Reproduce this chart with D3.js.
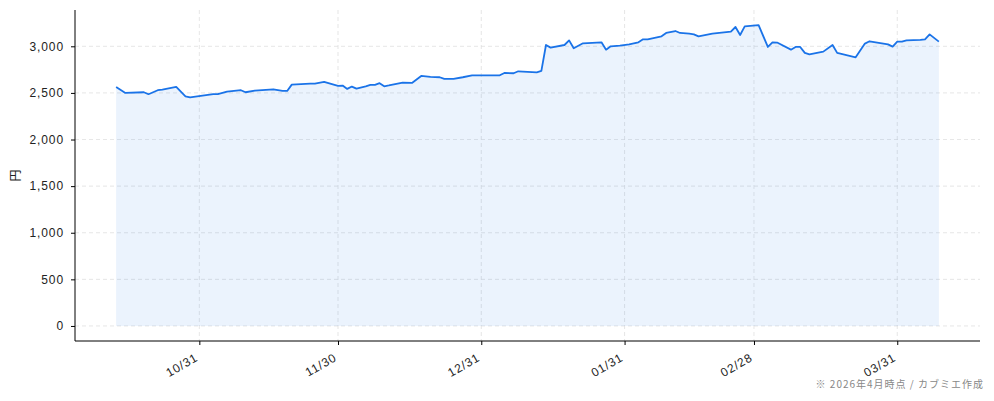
<!DOCTYPE html>
<html>
<head>
<meta charset="utf-8">
<script src="https://cdn.jsdelivr.net/npm/d3@7"></script>
<style>
  body { margin: 0; background: #fff; }
  svg { display: block; font-family: "Noto Sans CJK JP", "Noto Sans", sans-serif; }
</style>
</head>
<body>
<script>
// price points (date, close in yen)
var dates = [
  "2025-10-13","2025-10-15","2025-10-19","2025-10-20","2025-10-22","2025-10-23","2025-10-26","2025-10-28","2025-10-29",
  "2025-11-03","2025-11-04","2025-11-06","2025-11-09","2025-11-10","2025-11-12","2025-11-16","2025-11-18","2025-11-19",
  "2025-11-20","2025-11-24","2025-11-25","2025-11-27","2025-11-30",
  "2025-12-01","2025-12-02","2025-12-03","2025-12-04","2025-12-06","2025-12-07","2025-12-08","2025-12-09","2025-12-10",
  "2025-12-11","2025-12-14","2025-12-16","2025-12-18","2025-12-20","2025-12-22","2025-12-23","2025-12-25","2025-12-27","2025-12-29",
  "2026-01-04","2026-01-05","2026-01-07","2026-01-08","2026-01-12","2026-01-13","2026-01-14","2026-01-15","2026-01-18",
  "2026-01-19","2026-01-20","2026-01-22","2026-01-26","2026-01-27","2026-01-28","2026-01-30",
  "2026-02-01","2026-02-03","2026-02-04","2026-02-05","2026-02-08","2026-02-09","2026-02-11","2026-02-12","2026-02-14",
  "2026-02-15","2026-02-16","2026-02-19","2026-02-23","2026-02-24","2026-02-25","2026-02-26",
  "2026-03-01","2026-03-03","2026-03-04","2026-03-05","2026-03-08","2026-03-09","2026-03-10","2026-03-11","2026-03-12",
  "2026-03-15","2026-03-17","2026-03-18","2026-03-22","2026-03-24","2026-03-25","2026-03-29","2026-03-30","2026-03-31",
  "2026-04-01","2026-04-02","2026-04-05","2026-04-06","2026-04-07","2026-04-09"
];
var prices = [
  2564, 2500, 2507, 2486, 2529, 2536, 2564, 2464, 2453,
  2486, 2486, 2514, 2529, 2507, 2525, 2539, 2521, 2521,
  2589, 2600, 2600, 2618, 2575,
  2579, 2543, 2568, 2546, 2571, 2586, 2586, 2604, 2571,
  2580, 2611, 2607, 2682, 2671, 2668, 2650, 2650, 2668, 2689,
  2689, 2714, 2711, 2732, 2721, 2736, 3014, 2986, 3014,
  3064, 2979, 3032, 3043, 2964, 3000, 3007,
  3021, 3043, 3075, 3075, 3107, 3143, 3164, 3143, 3136,
  3128, 3107, 3136, 3157, 3207, 3121, 3214,
  3228, 2993, 3043, 3040, 2964, 2993, 2993, 2929, 2914,
  2943, 3014, 2929, 2882, 3029, 3054, 3021, 2996, 3050,
  3050, 3064, 3068, 3075, 3128, 3050
];
var xTicks = ["2025-10-31","2025-11-30","2025-12-31","2026-01-31","2026-02-28","2026-03-31"];
var yTicks = [0, 500, 1000, 1500, 2000, 2500, 3000];

var W = 994, H = 401;
var m = { l: 75, r: 980, t: 10, b: 341 };

var parse = d3.timeParse("%Y-%m-%d");
var data = dates.map(function(d, i) { return { date: parse(d), v: prices[i] }; });

var ext = d3.extent(data, function(d) { return d.date; });
var pad = (ext[1] - ext[0]) * 0.05;
var x = d3.scaleTime()
  .domain([new Date(+ext[0] - pad), new Date(+ext[1] + pad)])
  .range([m.l, m.r]);

var yMax = d3.max(prices);
var yPad = yMax * 0.05;
var y = d3.scaleLinear()
  .domain([-yPad, yMax + yPad])
  .range([m.b, m.t]);

var svg = d3.select("body").append("svg")
  .attr("width", W)
  .attr("height", H);

// grid
svg.append("g")
  .selectAll("line")
  .data(yTicks)
  .join("line")
  .attr("x1", m.l).attr("x2", m.r)
  .attr("y1", function(d) { return y(d); })
  .attr("y2", function(d) { return y(d); })
  .attr("stroke", "#e0e0e0")
  .attr("stroke-width", 0.8)
  .attr("stroke-dasharray", "4,3");

svg.append("g")
  .selectAll("line")
  .data(xTicks.map(parse))
  .join("line")
  .attr("x1", function(d) { return x(d); })
  .attr("x2", function(d) { return x(d); })
  .attr("y1", m.t).attr("y2", m.b)
  .attr("stroke", "#e0e0e0")
  .attr("stroke-width", 0.8)
  .attr("stroke-dasharray", "4,3");

// area + line
var area = d3.area()
  .x(function(d) { return x(d.date); })
  .y0(y(0))
  .y1(function(d) { return y(d.v); });

svg.append("path")
  .datum(data)
  .attr("d", area)
  .attr("fill", "#1a73e8")
  .attr("fill-opacity", 0.085);

var line = d3.line()
  .x(function(d) { return x(d.date); })
  .y(function(d) { return y(d.v); });

svg.append("path")
  .datum(data)
  .attr("d", line)
  .attr("fill", "none")
  .attr("stroke", "#1a73e8")
  .attr("stroke-width", 1.8)
  .attr("stroke-linejoin", "round");

// axes
var yAxis = d3.axisLeft(y)
  .tickValues(yTicks)
  .tickSize(4)
  .tickPadding(7)
  .tickFormat(d3.format(","));

var gy = svg.append("g")
  .attr("transform", "translate(" + m.l + ",0)")
  .call(yAxis);
gy.select(".domain").attr("d", "M0," + m.t + "V" + m.b);

var xAxis = d3.axisBottom(x)
  .tickValues(xTicks.map(parse))
  .tickSize(4)
  .tickFormat(d3.timeFormat("%m/%d"));

var gx = svg.append("g")
  .attr("transform", "translate(0," + m.b + ")")
  .call(xAxis);
gx.select(".domain").attr("d", "M" + m.l + ",0H" + m.r);
gx.selectAll("text")
  .attr("text-anchor", "end")
  .attr("dy", null)
  .attr("y", 0)
  .attr("transform", "translate(-1,19) rotate(-30)");

svg.selectAll(".tick text")
  .attr("font-size", 12)
  .attr("letter-spacing", 0.9)
  .attr("fill", "#222");
svg.selectAll(".domain, .tick line")
  .attr("stroke", "#000");

// labels
svg.append("text")
  .attr("transform", "translate(16," + ((m.t + m.b) / 2) + ") rotate(-90)")
  .attr("text-anchor", "middle")
  .attr("dy", "0.35em")
  .attr("font-size", 12)
  .attr("fill", "#222")
  .text("円");

svg.append("text")
  .attr("x", 984)
  .attr("y", 388)
  .attr("text-anchor", "end")
  .attr("font-size", 10)
  .attr("letter-spacing", 1)
  .attr("fill", "#888")
  .text("※ 2026年4月時点 / カブミエ作成");
</script>
</body>
</html>
